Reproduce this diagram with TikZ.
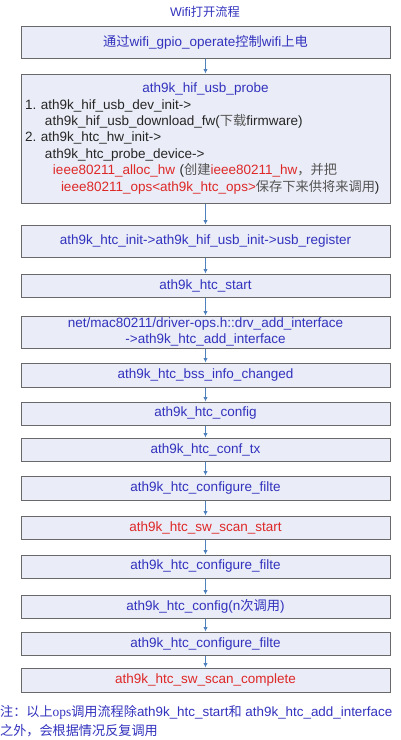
\documentclass[tikz,border=0pt]{standalone}
\usepackage{fontspec}
\setmainfont{Liberation Sans}
\newfontfamily\cjk[Scale=0.98]{Noto Sans CJK SC}
\newfontfamily\opsfont{Liberation Serif}
\usetikzlibrary{arrows.meta}
\definecolor{txtblue}{RGB}{50,50,190}
\definecolor{txtred}{RGB}{222,40,40}
\definecolor{txtgray}{RGB}{85,85,85}
\definecolor{boxfill}{RGB}{234,237,247}
\definecolor{boxline}{RGB}{105,105,105}
\definecolor{arrowblue}{RGB}{79,129,189}
\begin{document}
\begin{tikzpicture}[x=1pt, y=-1pt,
        fbox/.style={draw=boxline, fill=boxfill, line width=1pt, minimum width=369pt,
          minimum height=23pt, inner sep=4pt, text=txtblue,
          font=\fontsize{13.5}{16.4}\selectfont},
        flow/.style={draw=arrowblue, line width=0.8pt, -{Latex[length=4.5pt,width=4.5pt]}}
      ]
      \useasboundingbox (0,0) rectangle (400,740);
      % title
      \node[text=txtblue, font=\fontsize{12.5}{15}\selectfont] at (205,11.5) (title) {Wifi{\cjk 打开流程}};

      % boxes
      \node[fbox, minimum height=32pt] at (205.5,42) (power) {{\cjk 通过}wifi\_gpio\_operate{\cjk 控制}wifi{\cjk 上电}};
      \node[fbox, minimum height=129pt, text width=361pt, align=left, text=black!85] at (205.5,138.5) (probe) {%
        \makebox[361pt]{\color{txtblue}ath9k\_hif\_usb\_probe}\\
        1.\ ath9k\_hif\_usb\_dev\_init->\\
        \hspace*{20pt}ath9k\_hif\_usb\_download\_fw({\color{txtgray}\cjk 下载}firmware)\\
        2.\ ath9k\_htc\_hw\_init->\\
        \hspace*{20pt}ath9k\_htc\_probe\_device->\\
        \hspace*{28pt}\textcolor{txtred}{ieee80211\_alloc\_hw} ({\color{txtgray}\cjk 创建}\textcolor{txtred}{ieee80211\_hw}{\color{txtgray}\cjk ，并把}\\
        \hspace*{36pt}\textcolor{txtred}{ieee80211\_ops<ath9k\_htc\_ops>}{\color{txtgray}\cjk 保存下来供将来调用})};
      \node[fbox, minimum height=32pt] at (205.5,241) (init) {ath9k\_htc\_init->ath9k\_hif\_usb\_init->usb\_register};
      \node[fbox] at (205.5,285.5) (start) {ath9k\_htc\_start};
      \node[fbox, minimum height=32pt, align=center, inner sep=1pt] at (205.5,332) (addif) {net/mac80211/driver-ops.h::drv\_add\_interface\\->ath9k\_htc\_add\_interface};
      \node[fbox, minimum height=24pt] at (205.5,375) (bss) {ath9k\_htc\_bss\_info\_changed};
      \node[fbox] at (205.5,413.5) (config) {ath9k\_htc\_config};
      \node[fbox] at (205.5,449.5) (conftx) {ath9k\_htc\_conf\_tx};
      \node[fbox, minimum height=24pt] at (205.5,488) (filter1) {ath9k\_htc\_configure\_filte};
      \node[fbox, text=txtred] at (205.5,527.5) (scanstart) {ath9k\_htc\_sw\_scan\_start};
      \node[fbox] at (205.5,566.5) (filter2) {ath9k\_htc\_configure\_filte};
      \node[fbox] at (205.5,606.5) (confign) {ath9k\_htc\_config(n{\cjk 次调用})};
      \node[fbox] at (205.5,643.5) (filter3) {ath9k\_htc\_configure\_filte};
      \node[fbox, minimum height=24pt, text=txtred] at (205.5,680) (scandone) {ath9k\_htc\_sw\_scan\_complete};

      % edges
      \draw[flow] (power) -- (probe);
      \draw[flow] (probe) -- (init);
      \draw[flow] (init) -- (start);
      \draw[flow] (start) -- (addif);
      \draw[flow] (addif) -- (bss);
      \draw[flow] (bss) -- (config);
      \draw[flow] (config) -- (conftx);
      \draw[flow] (conftx) -- (filter1);
      \draw[flow] (filter1) -- (scanstart);
      \draw[flow] (scanstart) -- (filter2);
      \draw[flow] (filter2) -- (confign);
      \draw[flow] (confign) -- (filter3);
      \draw[flow] (filter3) -- (scandone);

      % note
      \node[anchor=north west, inner sep=0pt, align=left, text=txtblue,
        font=\fontsize{13.4}{19}\selectfont] at (0,705) (note)
        {{\cjk 注：以上}{\opsfont ops}{\cjk 调用流程除}ath9k\_htc\_start{\cjk 和} ath9k\_htc\_add\_interface\\
         {\cjk 之外，会根据情况反复调用}};
  \end{tikzpicture}
\end{document}
